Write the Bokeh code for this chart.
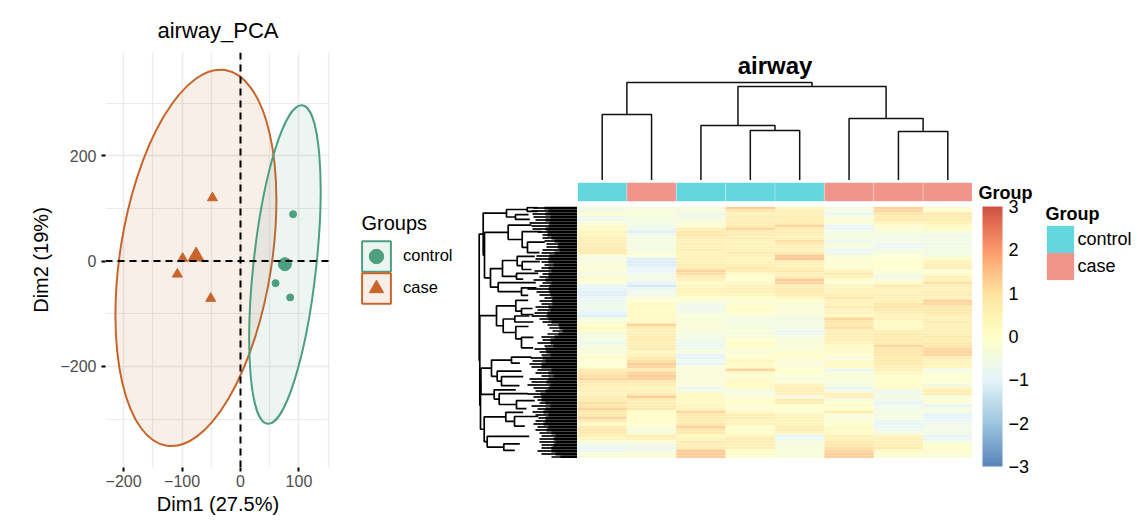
from bokeh.embed import file_html
from bokeh.resources import INLINE
from bokeh.plotting import figure
from bokeh.layouts import row, column
from bokeh.models import (Range1d, ColumnDataSource, FixedTicker, Grid, Span, Legend, LegendItem,
                          Label, LinearColorMapper, ColorBar, Spacer)
from bokeh.transform import transform
import numpy as np

FONT = "Liberation Sans"
CONTROL = "#4C9F7F"
CASE = "#C9652B"
ANN_CONTROL = "#63D6DE"
ANN_CASE = "#F1958B"

# ---- PCA data
control_x = [90, 60, 85]
control_y = [89, -42, -69]
case_x = [-48, -99, -108, -51]
case_y = [120, 5, -25, -71]
control_centre = (76, -6)
case_centre = (-76, 9)
# ellipse outlines: centre (Dim1, Dim2), pixel axes and tilt
control_ellipse = dict(x=76, y=-6.6, w=62.8, h=320.8, tilt=-0.1085)
case_ellipse = dict(x=-76.3, y=6, w=151.8, h=380.2, tilt=-0.1543)
pca_xticks = [-200, -100, 0, 100]
pca_yticks = [-200, 0, 200]
pca_xminor = [-150, -50, 50, 150]
pca_yminor = [-300, -100, 100, 300]

# ---- heatmap data (84 row bands, top to bottom, 8 samples)
groups = ["control", "case", "control", "control", "control", "case", "case", "case"]
col1 = [-.3,-.6,.1,-.6,-.7,-.3,.2,.2,.4,.4,.6,.6,.7,.7,.9,.8,-.2,-.5,-.3,-.2,-.2,
        -.2,-.5,.2,-.2,-.2,-.9,-1,-1.1,-1.1,-.9,-.8,-.7,-.7,-.7,-1,-1.1,-.4,-.3,.1,.3,.1,
        -.4,-.4,-.5,-.7,-.4,-.4,-.3,-.2,.2,-.2,-.1,-.1,.8,1,1.1,1.2,.9,.8,.5,.6,.4,
        .7,.8,1.1,1,1.3,.9,.9,1.2,.8,.2,.7,1,.9,.6,.4,-.3,-.6,-.8,-.7,-.2,-.2]
col2 = [-.4,-.25,-.25,-.3,-.6,-.4,-.6,-.7,-1.1,-.7,-.4,-.4,-.5,-.5,-.4,-.2,-.2,-1.1,-1.2,-1.2,-1,
        -.9,-.6,-.5,-.5,-1,-1.3,-.9,-.6,-.6,-.3,-.1,.3,.3,.2,.2,.3,.2,.2,1.3,.8,.6,
        .6,.7,.8,.6,.7,.8,.3,.5,.8,1.1,1.4,1.2,.7,1.2,1.4,1.3,.8,.6,.4,.5,.7,
        1.4,.7,.7,.7,1,.1,.1,.1,.1,0,-.3,-.4,-.3,.8,.5,-.3,-.4,-.9,-.4,-.2,-.2]
col3 = [-.3,-.4,-.7,-.5,-.4,-.2,-.1,.6,.9,1,.7,.6,.6,.6,.7,.5,.5,.6,.5,.8,.7,
        1.3,1.1,.7,.6,.1,.4,.5,.5,.4,.1,-.3,-.6,-.7,-.6,-.4,-.2,-.3,-.3,-.3,-.3,-.3,
        -.4,-.5,-.6,-.7,-.8,-.5,-.3,-1,-1,-.7,-1,-.2,-.2,-.3,-.3,-.2,-.3,-.2,-.7,-.4,.3,
        .3,.3,.2,.4,.4,1.2,.9,.8,.7,.9,1.3,1,.9,.3,.5,.8,.7,.8,1.4,1.4,1.4]
col4 = [1.4,.9,.5,.7,.6,.7,.8,1.2,.7,.8,.7,.5,.5,.5,.5,.8,.5,.4,.5,.6,.9,
        .7,.3,-.1,-.1,.3,.5,.6,.5,.4,.1,-.3,.1,.1,.1,-.1,-.2,-.5,-.5,-.4,-.4,-.2,
        -.4,-.3,0,.1,.1,.1,-.4,.1,.1,.4,.3,.3,1.2,.2,-.2,.3,.3,.3,.2,-.5,-.4,
        -.3,.1,.1,.1,-.2,.3,.8,.7,.5,.5,.1,.1,.1,.4,.8,.7,.6,.6,.1,.1,-.1]
col5 = [.3,.6,.5,.8,.6,.7,1.3,.8,.8,.6,.5,1.1,.8,.6,.5,.8,1.4,1.5,.6,.5,.6,
        .9,.6,.7,1.4,1.2,.6,.8,.9,.6,.4,0,-.2,-.2,-.2,-.2,-.4,-.4,-.5,-.5,-.4,-.9,
        -.7,-.4,-.3,-.3,-.2,-.2,0,.1,.1,-.3,-.3,-.2,0,0,-.2,-.3,-.2,.5,.6,.6,.5,
        -.5,.8,.6,-.1,-.1,-.1,.4,.5,.4,.4,.7,.8,.4,-1,-.7,-.4,-.2,-.4,-.3,-.3,-.3]
col6 = [-.5,-.4,-.9,-.3,-.3,-.3,-.9,-.8,-.5,-.4,-.4,-.7,-.4,-.4,-.8,-.6,-.4,-.1,.1,-.3,.1,
        .4,.8,.5,.1,-.2,.4,.5,.4,.7,.9,.5,.4,.7,.4,.5,.2,1.2,1,.9,1.1,.6,
        .7,.7,.6,.5,.2,.2,.2,.1,-.5,.3,.2,.2,-.9,-.3,-.3,-.3,-.4,-.3,-1,-.4,.5,
        .6,-.4,0,.1,0,.8,-.2,-.2,-.2,-.1,.2,.2,.2,.6,.5,.9,.9,1.1,1.2,1.4,1.4]
col7 = [1.3,1.2,1,.7,.9,.4,.1,-.2,-.4,-.4,-.6,-.5,-.8,-.8,-.5,-.4,-.1,-.1,0,0,-.1,
        -.2,-.3,-.6,-.3,.2,.9,.5,.5,.6,.5,.5,1,1,.9,.6,.5,.5,.3,.2,.2,.6,
        .8,.7,.9,.8,1.2,1,1,1,.9,.9,.8,.6,.5,.4,0,.1,.1,.1,.2,-.6,-.7,
        -.4,-.6,-1,-.6,-.6,-.4,-.5,-.5,-.7,-1,-.8,-.6,-.5,.4,.6,.6,.6,.8,.3,-.1,-.2]
col8 = [-.2,.1,.9,.7,.8,.5,.3,.3,-.2,-.7,-.5,-.5,-.7,-.5,-.4,-.6,-.4,.3,.5,.6,.6,
        -.2,.1,.5,.5,1.1,.6,.5,.7,.7,.5,1.3,1.2,.9,.9,.9,.7,.6,.8,.6,.6,.6,
        .7,.9,.8,.9,1,1.2,1.3,1.2,.6,.5,.5,.4,-.5,-.3,-.1,-.1,-.1,-.6,.4,.8,.7,
        -.3,-.2,-.1,-1,-.4,-.4,-1,-1,-.9,-.6,-.6,-.5,-.5,-1,-.8,-.5,.1,.1,.1,-.3,-.3]
heat_cols = [col1, col2, col3, col4, col5, col6, col7, col8]
colorbar_ticks = [-3, -2, -1, 0, 1, 2, 3]

# column dendrogram: (left, right, height); ints are samples, "nN" earlier merges
col_merges = [(0, 1, 66), (3, 4, 50), (2, "n1", 55), (6, 7, 49), (5, "n3", 62),
              ("n2", "n4", 94), ("n0", "n5", 98)]

# row dendrogram: depth from heatmap edge, then the two children (row, depth)
row_nodes = [
    (62, 2.7, 49, 4.3, 47.7), (50.3, .4, 40, 1.6, 40), (71, 1, 50.3, 3.5, 62),
    (50, 11.9, 32.7, 15.4, 38), (55.3, 8.4, 36, 13.6, 50), (69.3, 6.2, 46, 11, 55.3),
    (55.3, 18.4, 37.7, 21, 46), (60.3, 16.6, 42.7, 19.7, 55.3), (61, 22.3, 39.3, 24.2, 54.3),
    (75, 18, 60.3, 23.3, 61), (56, 27.1, 41, 29.6, 49.3), (79.3, 25.4, 41.7, 28.4, 56),
    (87, 20.7, 75, 26.9, 79.3), (93, 8.6, 69.3, 23.8, 87), (94.3, 2.2, 71, 16.2, 93),
    (61.7, 31.3, 49.3, 34.9, 56), (56, 34, 45, 36, 44), (62.7, 36.5, 48, 38.5, 44),
    (61.7, 40, 49, 44.1, 56), (56, 43.6, 44, 47.1, 44.3), (74.3, 37.5, 62.7, 42, 61.7),
    (81, 33.1, 61.7, 39.75, 74.3), (66, 50.2, 46, 52.2, 57.7), (76, 56.7, 54.3, 59.7, 58),
    (80.3, 54.9, 56, 58.2, 76), (86, 51.2, 66, 56.6, 80.3), (61, 64.7, 42.7, 67.4, 51),
    (78.3, 62.4, 49.3, 66, 61), (83.3, 61.1, 61.7, 64.2, 78.3), (63, 70, 39.3, 73.2, 52.7),
    (71.7, 68.6, 54.3, 71.6, 63), (73.7, 79.1, 57.7, 81.3, 62.7), (90.3, 76.6, 48.3, 80.2, 73.7),
    (93.3, 70.1, 71.7, 78.4, 90.3), (96.6, 53.9, 86, 62.6, 83.3), (97, 58.25, 96.6, 74.25, 93.3),
    (97.7, 36.4, 81, 66.25, 97), (98.3, 9.2, 94.3, 51.3, 97.7),
]
leaf_solid = [33,29,32,27,32,28,29,32,30,30, 26,23,19,20,18,23,28,29,29,24,
              29,26,29,29,32,26,28,29,28,27, 25,26,25,29,27,30,31,29,26,19,18,15,
              19,23,27,27,24,32,31,27,35,32, 36,36,26,29,24,29,31,27,29,32,
              37,36,36,32,27,32,34,29,32,32, 34,29,31,26,22,24,22,24,26,26,22,17]
leaf_grey = [44,46,45,44,42,48,46,45,40,35, 35,33,31,31,35,36,41,42,36,33,
             36,43,35,38,44,35,38,50,41,38, 33,38,36,42,40,43,46,38,35,30,28,25,
             30,36,35,40,33,43,38,36,47,45, 48,46,40,42,36,48,46,50,44,42,
             50,44,40,38,46,40,45,42,39,42, 44,40,42,38,36,38,38,36,36,40,36,26]

# colour ramp, slightly washed out as in the picture
anchors = ["#4575B4", "#91BFDB", "#E0F3F8", "#FFFFBF", "#FEE090", "#FC8D59", "#CC3A2A"]
rgb = np.array([[int(a[i:i + 2], 16) for i in (1, 3, 5)] for a in anchors], dtype=float) * 0.88 + 255 * 0.12
pos = np.linspace(0, 1, 7)
palette = ["#%02x%02x%02x" % tuple(int(round(np.interp(t, pos, rgb[:, k]))) for k in range(3))
           for t in np.linspace(0, 1, 100)]
mapper = LinearColorMapper(palette=palette, low=-3, high=3)


def bare(fig):
    fig.axis.visible = False
    fig.grid.visible = False
    fig.outline_line_color = None
    fig.background_fill_color = None
    fig.border_fill_color = None
    return fig


# ==== PCA panel
pca = figure(width=330, height=524, output_backend="svg", toolbar_location=None,
             x_range=Range1d(-231, 154), y_range=Range1d(-392, 396),
             min_border_left=105, min_border_right=0, min_border_top=52, min_border_bottom=57,
             title="airway_PCA", x_axis_label="Dim1 (27.5%)", y_axis_label="Dim2 (19%)")
pca.title.text_font = FONT
pca.title.text_font_size = "22px"
pca.title.text_font_style = "normal"
pca.title.align = "center"
pca.title.standoff = 19
pca.title.text_color = "#000000"
pca.outline_line_color = None
for ax, ticks in ((pca.xaxis[0], pca_xticks), (pca.yaxis[0], pca_yticks)):
    ax.ticker = FixedTicker(ticks=ticks)
    ax.major_label_overrides = {t: str(t).replace("-", "\u2212") for t in ticks}
    ax.major_label_text_font = FONT
    ax.major_label_text_font_size = "16px"
    ax.major_label_text_color = "#4D4D4D"
    ax.axis_line_color = None
    ax.major_tick_line_color = "#000000"
    ax.major_tick_line_width = 2
    ax.major_tick_in = 0
    ax.major_tick_out = 4
    ax.minor_tick_line_color = None
    ax.axis_label_text_font = FONT
    ax.axis_label_text_font_size = "20px"
    ax.axis_label_text_font_style = "normal"
    ax.axis_label_text_color = "#000000"
pca.xaxis[0].major_label_standoff = 3
pca.xaxis[0].axis_label_standoff = 3
pca.yaxis[0].major_label_standoff = 5
pca.yaxis[0].axis_label_standoff = 5
for g in pca.grid:
    g.grid_line_color = "#EBEBEB"
    g.grid_line_width = 1.5
pca.add_layout(Grid(dimension=0, ticker=FixedTicker(ticks=pca_xminor),
                    grid_line_color="#EBEBEB", grid_line_width=1.2))
pca.add_layout(Grid(dimension=1, ticker=FixedTicker(ticks=pca_yminor),
                    grid_line_color="#EBEBEB", grid_line_width=1.2))

for el, c in ((case_ellipse, CASE), (control_ellipse, CONTROL)):
    pca.ellipse(x=[el["x"]], y=[el["y"]], width=el["w"], height=el["h"], angle=el["tilt"],
                width_units="screen", height_units="screen",
                fill_color=c, fill_alpha=0.1, line_color=c, line_width=2)
pca.scatter(control_x, control_y, marker="circle", size=7, color=CONTROL)
pca.scatter([control_centre[0]], [control_centre[1]], marker="circle", size=13, color=CONTROL)
pca.scatter(case_x, case_y, marker="triangle", size=10, color=CASE)
pca.scatter([case_centre[0]], [case_centre[1]], marker="triangle", size=16, color=CASE)
pca.add_layout(Span(location=0, dimension="height", line_color="black", line_width=2, line_dash="7 5"))
pca.add_layout(Span(location=0, dimension="width", line_color="black", line_width=2, line_dash="7 5"))

# ==== PCA legend panel
pl = figure(width=140, height=524, output_backend="svg", toolbar_location=None,
            x_range=Range1d(0, 1), y_range=Range1d(0, 1),
            min_border_left=0, min_border_right=0, min_border_top=0, min_border_bottom=0)
bare(pl)
for name, c, mk, where in (("control", CONTROL, "circle", 249.2), ("case", CASE, "triangle", 217.2)):
    r1 = pl.rect([np.nan], [np.nan], width=1, height=1, fill_color=c, fill_alpha=0.1,
                 line_color=c, line_width=2)
    r2 = pl.scatter([np.nan], [np.nan], marker=mk, size=12, color=c)
    pl.add_layout(Legend(items=[LegendItem(label=name, renderers=[r1, r2])], location=(28, where),
                         glyph_width=36, glyph_height=38, padding=0, margin=0,
                         label_standoff=9, label_text_font=FONT, label_text_font_size="16.5px",
                         label_text_color="#000000",
                         border_line_color=None, background_fill_alpha=0), "center")
pl.add_layout(Label(x=31, y=302, x_units="screen", y_units="screen", text="Groups",
                    text_color="#000000", text_font=FONT, text_font_size="20px", text_baseline="middle"))

# ==== row dendrogram
rd = figure(width=107, height=252, output_backend="svg", toolbar_location=None,
            x_range=Range1d(101, 0), y_range=Range1d(84, 0),
            min_border_left=6, min_border_right=0, min_border_top=0, min_border_bottom=0)
bare(rd)
rows_mid = [i + .5 for i in range(84)]
rd.hbar(y=rows_mid, left=0, right=leaf_grey, height=0.6, fill_color="#000000", fill_alpha=0.85, line_color=None)
rd.hbar(y=rows_mid, left=0, right=leaf_solid, height=1, fill_color="#000000", line_color=None)
rd.multi_line(xs=[[a_d, n, n, b_d] for n, a_r, a_d, b_r, b_d in row_nodes],
              ys=[[a_r, a_r, b_r, b_r] for n, a_r, a_d, b_r, b_d in row_nodes],
              line_color="#000000", line_width=1.7)

# ==== column dendrogram
td = figure(width=395, height=180, output_backend="svg", toolbar_location=None,
            x_range=Range1d(0, 8), y_range=Range1d(0, 100),
            min_border_left=0, min_border_right=0, min_border_top=80, min_border_bottom=0,
            title="airway")
bare(td)
td.title.text_font = FONT
td.title.text_font_size = "24px"
td.title.text_font_style = "bold"
td.title.text_color = "#000000"
td.title.align = "center"
td.title.standoff = 3
placed = {}
xs, ys = [], []
for i, (a, b, h) in enumerate(col_merges):
    xa, ya = placed[a] if isinstance(a, str) else (a + .5, 0)
    xb, yb = placed[b] if isinstance(b, str) else (b + .5, 0)
    xs.append([xa, xa, xb, xb])
    ys.append([ya, h, h, yb])
    placed["n%d" % i] = ((xa + xb) / 2, h)
td.multi_line(xs=xs, ys=ys, line_color="#111111", line_width=1.5)

# ==== annotation bar
ab = figure(width=395, height=26, output_backend="svg", toolbar_location=None,
            x_range=Range1d(0, 8), y_range=Range1d(0, 1),
            min_border_left=0, min_border_right=0, min_border_top=2, min_border_bottom=5)
bare(ab)
ab.quad(left=list(range(8)), right=[i + 1 for i in range(8)], bottom=0, top=1,
        fill_color=[ANN_CONTROL if g == "control" else ANN_CASE for g in groups],
        line_color="#FFFFFF", line_alpha=0.25, line_width=1)

# ==== heatmap
hm = figure(width=395, height=252, output_backend="svg", toolbar_location=None,
            x_range=Range1d(0, 8), y_range=Range1d(84, 0),
            min_border_left=0, min_border_right=0, min_border_top=0, min_border_bottom=0)
bare(hm)
cx, cy, cv = [], [], []
for j, cvals in enumerate(heat_cols):
    for i, v in enumerate(cvals):
        cx.append(j + .5)
        cy.append(i + .5)
        cv.append(v)
src = ColumnDataSource(dict(x=cx, y=cy, v=cv))
hm.rect(x="x", y="y", width=1, height=1, source=src, fill_color=transform("v", mapper),
        fill_alpha=0.88, line_color=None)

# ==== colour bar and group legend
cb = figure(width=168, height=524, output_backend="svg", toolbar_location=None,
            x_range=Range1d(0, 1), y_range=Range1d(0, 1),
            min_border_left=0, min_border_right=0, min_border_top=0, min_border_bottom=0)
bare(cb)
bar = ColorBar(color_mapper=mapper, location=(10, 58), width=20, height=260, padding=0,
               margin=0, ticker=FixedTicker(ticks=colorbar_ticks), major_tick_line_color=None,
               bar_line_color=None, border_line_color=None, background_fill_alpha=0,
               major_label_overrides={t: str(t).replace("-", "\u2212") for t in colorbar_ticks},
               major_label_text_font=FONT, major_label_text_font_size="18px",
               major_label_text_color="#000000", label_standoff=6)
cb.add_layout(bar, "center")
for name, c, where in (("control", ANN_CONTROL, 267.6), ("case", ANN_CASE, 240.6)):
    r = cb.rect([np.nan], [np.nan], width=1, height=1, fill_color=c, line_color=None)
    cb.add_layout(Legend(items=[LegendItem(label=name, renderers=[r])], location=(70.6, where),
                         glyph_width=34, glyph_height=34, padding=0, margin=0, label_standoff=1,
                         label_text_font=FONT, label_text_font_size="18px", label_text_color="#000000",
                         border_line_color=None, background_fill_alpha=0), "center")
cb.add_layout(Label(x=6, y=332, x_units="screen", y_units="screen", text="Group", text_color="#000000",
                    text_font=FONT, text_font_size="18px", text_font_style="bold", text_baseline="middle"))
cb.add_layout(Label(x=73, y=311, x_units="screen", y_units="screen", text="Group", text_color="#000000",
                    text_font=FONT, text_font_size="18px", text_font_style="bold", text_baseline="middle"))

layout = row(column(pca, spacing=0),
             column(pl, spacing=0),
             column(Spacer(width=107, height=206), rd, spacing=0),
             column(td, ab, hm, spacing=0),
             column(cb, spacing=0), spacing=0)
open("out.html", "w").write(file_html(layout, INLINE))
